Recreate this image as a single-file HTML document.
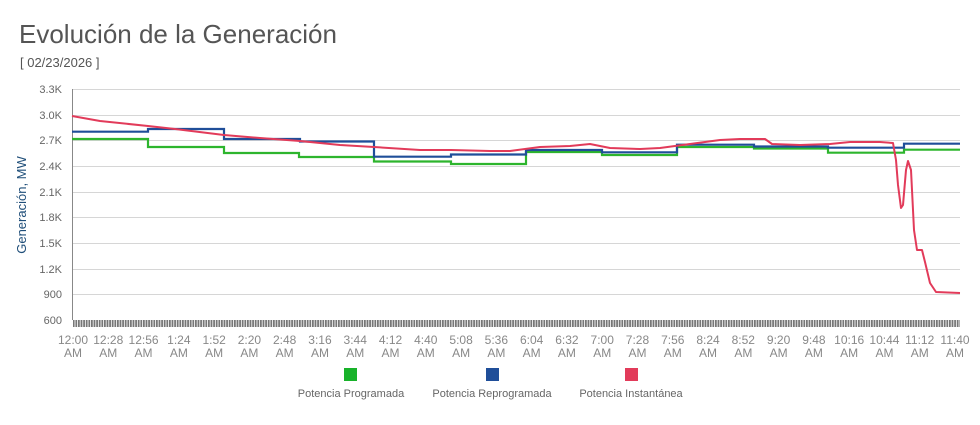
<!DOCTYPE html>
<html><head><meta charset="utf-8"><style>
body{margin:0;background:#fff;width:980px;height:420px;overflow:hidden;font-family:"Liberation Sans",sans-serif}
</style></head><body>
<svg width="980" height="420" xmlns="http://www.w3.org/2000/svg" font-family="Liberation Sans, sans-serif">
<defs><pattern id="tk" width="2.6" height="7" patternUnits="userSpaceOnUse"><rect x="0" y="0" width="1.8" height="7" fill="#777"/></pattern></defs>
<text x="19" y="43" font-size="26" fill="#555">Evolución de la Generación</text>
<text x="20" y="67" font-size="13" fill="#555">[ 02/23/2026 ]</text>
<g stroke="#d6d6d6" stroke-width="1">
<line x1="72" x2="960" y1="89.5" y2="89.5"/><line x1="72" x2="960" y1="115.5" y2="115.5"/><line x1="72" x2="960" y1="140.5" y2="140.5"/><line x1="72" x2="960" y1="166.5" y2="166.5"/><line x1="72" x2="960" y1="192.5" y2="192.5"/><line x1="72" x2="960" y1="217.5" y2="217.5"/><line x1="72" x2="960" y1="243.5" y2="243.5"/><line x1="72" x2="960" y1="269.5" y2="269.5"/><line x1="72" x2="960" y1="294.5" y2="294.5"/>
</g>
<line x1="72.5" x2="72.5" y1="89" y2="320" stroke="#888"/>
<rect x="73" y="320" width="887" height="7" fill="url(#tk)"/>
<g font-size="11" fill="#666" text-anchor="end">
<text x="62" y="93">3.3K</text><text x="62" y="119">3.0K</text><text x="62" y="144">2.7K</text><text x="62" y="170">2.4K</text><text x="62" y="196">2.1K</text><text x="62" y="221">1.8K</text><text x="62" y="247">1.5K</text><text x="62" y="273">1.2K</text><text x="62" y="298">900</text><text x="62" y="324">600</text>
</g>
<text transform="translate(26,205) rotate(-90)" font-size="13" fill="#1f4e79" text-anchor="middle">Generación, MW</text>
<g font-size="12" fill="#888" text-anchor="middle" id="xl"></g>
<polyline fill="none" stroke="#2db52d" stroke-width="2.2" points="72,139 148,139 148,147 224,147 224,153 299,153 299,157 374,157 374,161.5 451,161.5 451,164 526,164 526,152 602,152 602,155 677,155 677,147 754,147 754,148.5 828,148.5 828,152.7 904,152.7 904,149.7 960,149.7"/>
<polyline fill="none" stroke="#1f4e99" stroke-width="2.2" points="72,131.7 148,131.7 148,129 224,129 224,139 300,139 300,141.5 374,141.5 374,156.7 451,156.7 451,154.5 526,154.5 526,150 602,150 602,152.3 677,152.3 677,144.7 754,144.7 754,146.5 828,146.5 828,147.7 904,147.7 904,143.7 960,143.7"/>
<polyline fill="none" stroke="#e23b5a" stroke-width="2" stroke-linejoin="round" points="72,116 100,121 148,126 175,129 224,135 260,138 300,141 340,145 374,147 420,150 451,150 490,151 510,151 540,147 570,146 590,144 610,148 640,149 660,148 690,144 720,140 740,139 765,139 772,144 800,145 830,144 850,142 880,142 893,143 896,160 898,185 901,208 903,205 906,170 908,161 911,170 914,230 917,250 922,250 925,262 930,283 936,292 960,293"/>
<rect x="344" y="368" width="13" height="13" fill="#18b22a"/>
<rect x="486" y="368" width="13" height="13" fill="#1f4e99"/>
<rect x="625" y="368" width="13" height="13" fill="#e23b5a"/>
<g font-size="11" fill="#666" text-anchor="middle">
<text x="351" y="397">Potencia Programada</text><text x="492" y="397">Potencia Reprogramada</text><text x="631" y="397">Potencia Instantánea</text>
</g>
</svg>
<script>
var t=["12:00","12:28","12:56","1:24","1:52","2:20","2:48","3:16","3:44","4:12","4:40","5:08","5:36","6:04","6:32","7:00","7:28","7:56","8:24","8:52","9:20","9:48","10:16","10:44","11:12","11:40"];
var g=document.getElementById("xl"),h="";
for(var i=0;i<t.length;i++){var x=73+i*35.28;h+='<text x="'+x+'" y="344">'+t[i]+'</text><text x="'+x+'" y="357">AM</text>';}
g.innerHTML=h;
</script>
</body></html>
